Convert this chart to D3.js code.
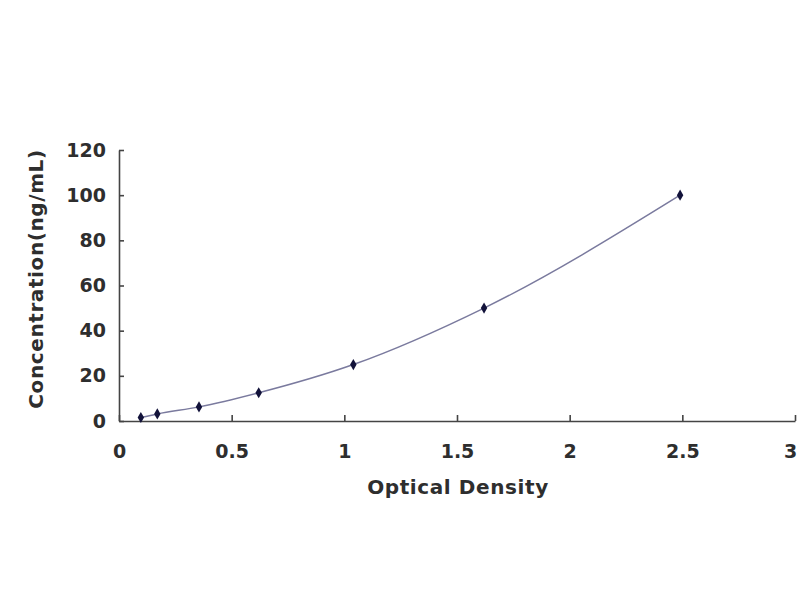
<!DOCTYPE html>
<html>
<head>
<meta charset="utf-8">
<script src="https://cdn.jsdelivr.net/npm/d3@7"></script>
<style>
  body { margin: 0; background: #fff; }
  .axis text { font-family: "DejaVu Sans", Arial, sans-serif; font-weight: bold; font-size: 19px; fill: #2e2e2e; }
  .axis path, .axis line { stroke: #444; stroke-width: 1.6; }
  .title { font-family: "DejaVu Sans", Arial, sans-serif; font-weight: bold; font-size: 20px; letter-spacing: 0.6px; fill: #2e2e2e; }
</style>
</head>
<body>
<div class="chart"></div>
<script>
// data
var od = [0.097, 0.17, 0.355, 0.62, 1.04, 1.62, 2.49];
var conc = [1.56, 3.12, 6.25, 12.5, 25, 50, 100];
var xTicks = [0, 0.5, 1, 1.5, 2, 2.5, 3];
var yTicks = [0, 20, 40, 60, 80, 100, 120];

var margin = {top: 150, right: 5, bottom: 179, left: 119},
    width = 800 - margin.left - margin.right,
    height = 600 - margin.top - margin.bottom;

var svg = d3.select(".chart")
  .append("svg")
    .attr("width", 800)
    .attr("height", 600)
  .append("g")
    .attr("transform", "translate(" + margin.left + "," + margin.top + ")");

var x = d3.scaleLinear().domain([0, 3]).range([0, 676]);
var y = d3.scaleLinear().domain([0, 120]).range([height, 0]);

// y axis, ticks point inside
var yAxis = svg.append("g")
    .classed("axis", true)
    .call(d3.axisRight(y).tickValues(yTicks).tickSize(5).tickSizeOuter(0).tickFormat(d3.format("d")));
yAxis.selectAll("text").attr("x", -13).style("text-anchor", "end");

// x axis, ticks point up
var xAxis = svg.append("g")
    .classed("axis", true)
    .attr("transform", "translate(0," + height + ")")
    .call(d3.axisTop(x).tickValues(xTicks).tickSize(6).tickSizeOuter(0).tickFormat(function(d) { return d; }));
xAxis.selectAll("text")
    .attr("y", 24)
    .attr("dy", "0.71em")
    .style("text-anchor", "middle")
    // last label sits at the right edge, keep it inside
    .attr("x", function(d) { return d === 3 ? -5 : 0; });

var data = od.map(function(d, i) { return {od: d, conc: conc[i]}; });

var line = d3.line()
    .x(function(d) { return x(d.od); })
    .y(function(d) { return y(d.conc); })
    .curve(d3.curveMonotoneX);

svg.append("path")
    .datum(data)
    .attr("fill", "none")
    .attr("stroke", "#7a7a9e")
    .attr("stroke-width", 1.5)
    .attr("d", line);

svg.selectAll("mypoint")
  .data(data)
  .enter()
  .append("path")
    .attr("d", d3.symbol().type(d3.symbolDiamond).size(36))
    .attr("transform", function(d) { return "translate(" + x(d.od) + "," + y(d.conc) + ")"; })
    .attr("fill", "#12123a");

svg.append("text")
    .attr("class", "title")
    .attr("x", 339)
    .attr("y", 344)
    .style("text-anchor", "middle")
    .text("Optical Density");

svg.append("text")
    .attr("class", "title")
    .attr("transform", "rotate(-90)")
    .attr("x", -129)
    .attr("y", -76)
    .style("text-anchor", "middle")
    .text("Concentration(ng/mL)");
</script>
</body>
</html>
